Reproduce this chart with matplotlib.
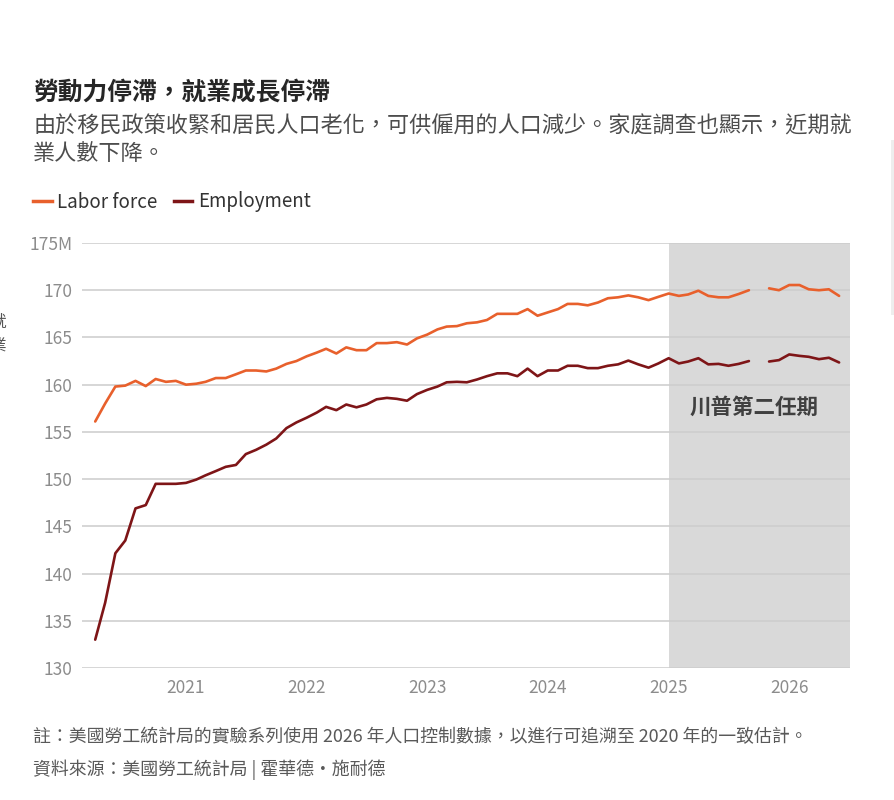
import numpy as np
import pandas as pd
import matplotlib
matplotlib.use("Agg")
import matplotlib.pyplot as plt
from matplotlib.lines import Line2D
from matplotlib.patches import Rectangle

plt.rcParams['font.family'] = ['Noto Sans CJK TC', 'DejaVu Sans']

# Monthly data, Apr 2020 - Jun 2026 (millions); Oct 2025 missing
months = pd.date_range('2020-04-01', periods=75, freq='MS')

labor_force = [
    156.1, 158.0, 159.8, 159.9, 160.4, 159.85, 160.6, 160.3, 160.4,      # 2020
    160.0, 160.1, 160.3, 160.7, 160.7, 161.1, 161.5, 161.5, 161.4, 161.7, 162.2, 162.5,  # 2021
    163.0, 163.4, 163.8, 163.3, 163.95, 163.65, 163.65, 164.4, 164.4, 164.5, 164.25, 164.9,  # 2022
    165.3, 165.85, 166.15, 166.2, 166.5, 166.6, 166.85, 167.5, 167.5, 167.5, 168.0, 167.3,  # 2023
    167.65, 168.0, 168.55, 168.55, 168.4, 168.7, 169.15, 169.25, 169.45, 169.25, 168.95, 169.3,  # 2024
    169.65, 169.4, 169.55, 169.95, 169.4, 169.25, 169.25, 169.6, 170.0, np.nan, 170.2, 170.0,  # 2025
    170.55, 170.55, 170.1, 170.0, 170.1, 169.4,  # 2026
]

employment = [
    133.0, 136.9, 142.15, 143.5, 146.9, 147.25, 149.5, 149.5, 149.5,     # 2020
    149.6, 149.95, 150.4, 150.85, 151.3, 151.5, 152.65, 153.1, 153.65, 154.3, 155.4, 156.0,  # 2021
    156.5, 157.05, 157.65, 157.3, 157.9, 157.6, 157.9, 158.45, 158.6, 158.5, 158.3, 159.0,  # 2022
    159.45, 159.8, 160.25, 160.3, 160.25, 160.55, 160.9, 161.2, 161.2, 160.9, 161.7, 160.9,  # 2023
    161.5, 161.5, 162.0, 162.0, 161.75, 161.75, 162.0, 162.15, 162.55, 162.15, 161.8, 162.25,  # 2024
    162.8, 162.25, 162.45, 162.8, 162.15, 162.2, 162.0, 162.2, 162.5, np.nan, 162.45, 162.6,  # 2025
    163.2, 163.05, 162.95, 162.7, 162.85, 162.35,  # 2026
]

y_ticks = [130, 135, 140, 145, 150, 155, 160, 165, 170, 175]
y_labels = ['130', '135', '140', '145', '150', '155', '160', '165', '170', '175M']
year_ticks = pd.to_datetime(['2021-01-01', '2022-01-01', '2023-01-01',
                             '2024-01-01', '2025-01-01', '2026-01-01'])
year_labels = ['2021', '2022', '2023', '2024', '2025', '2026']

fig = plt.figure(figsize=(8.95, 8.0), dpi=100)
ax = fig.add_axes([82 / 895, 1 - 668 / 800, (850 - 82) / 895, (668 - 243) / 800])

x_left = pd.Timestamp('2020-02-21')
x_right = pd.Timestamp('2026-07-04')

# second term shading
ax.axvspan(pd.Timestamp('2025-01-01'), x_right, color='#d9d9d9', lw=0, zorder=1)

ax.plot(months, labor_force, color='#e8602c', lw=1.9, zorder=3,
        solid_joinstyle='round', solid_capstyle='round')
ax.plot(months, employment, color='#7e1517', lw=1.9, zorder=3,
        solid_joinstyle='round', solid_capstyle='round')

ax.set_xlim(x_left, x_right)
ax.set_ylim(130, 175)
ax.set_yticks(y_ticks)
ax.set_yticklabels(y_labels)
ax.set_xticks(year_ticks)
ax.set_xticklabels(year_labels)
ax.grid(axis='y', color='#cccccc', lw=1.1)
ax.grid(axis='x', visible=False)
for s in ax.spines.values():
    s.set_visible(False)
ax.tick_params(axis='both', length=0, labelcolor='#8c8c8c', labelsize=12.5)
ax.tick_params(axis='y', pad=7)
ax.tick_params(axis='x', pad=8)
ax.patch.set_visible(False)

ax.text(pd.Timestamp('2025-09-15'), 157.6, '川普第二任期', ha='center', va='center',
        fontsize=15.5, fontweight='bold', color='#404040', zorder=4)

# header
fig.text(33 / 895, 1 - 92 / 800, '勞動力停滯，就業成長停滯', fontsize=17.8,
         fontweight='bold', color='#262626', va='center')
fig.text(33 / 895, 1 - 127 / 800,
         '由於移民政策收緊和居民人口老化，可供僱用的人口減少。家庭調查也顯示，近期就',
         fontsize=15.9, color='#4d4d4d', va='center')
fig.text(33 / 895, 1 - 154 / 800, '業人數下降。',
         fontsize=15.9, color='#4d4d4d', va='center')

# legend
handles = [Line2D([0], [0], color='#e8602c', lw=2.5),
           Line2D([0], [0], color='#7e1517', lw=2.5)]
fig.legend(handles, ['Labor force', 'Employment'], loc='center left',
           bbox_to_anchor=(33 / 895, 1 - 202 / 800), ncol=2, frameon=False,
           borderpad=0, borderaxespad=0,
           handlelength=1.0, handletextpad=0.3, columnspacing=0.85,
           prop={'size': 13.5}, labelcolor='#333333')

# footer
fig.text(33 / 895, 1 - 737 / 800,
         '註：美國勞工統計局的實驗系列使用 2026 年人口控制數據，以進行可追溯至 2020 年的一致估計。',
         fontsize=12.9, color='#595959', va='center')
fig.text(33 / 895, 1 - 770 / 800, '資料來源：美國勞工統計局 | 霍華德‧施耐德',
         fontsize=12.9, color='#595959', va='center')

# cropped bits at the screenshot edges
fig.text(-11 / 895, 1 - 322 / 800, '就', fontsize=12, color='#555555', va='center')
fig.text(-11 / 895, 1 - 346 / 800, '業', fontsize=12, color='#555555', va='center')
fig.add_artist(Rectangle((891 / 895, 1 - 315 / 800), 4 / 895, 175 / 800,
                         transform=fig.transFigure, color='#eeeeee', lw=0))

fig.savefig('out.png', dpi=100)
